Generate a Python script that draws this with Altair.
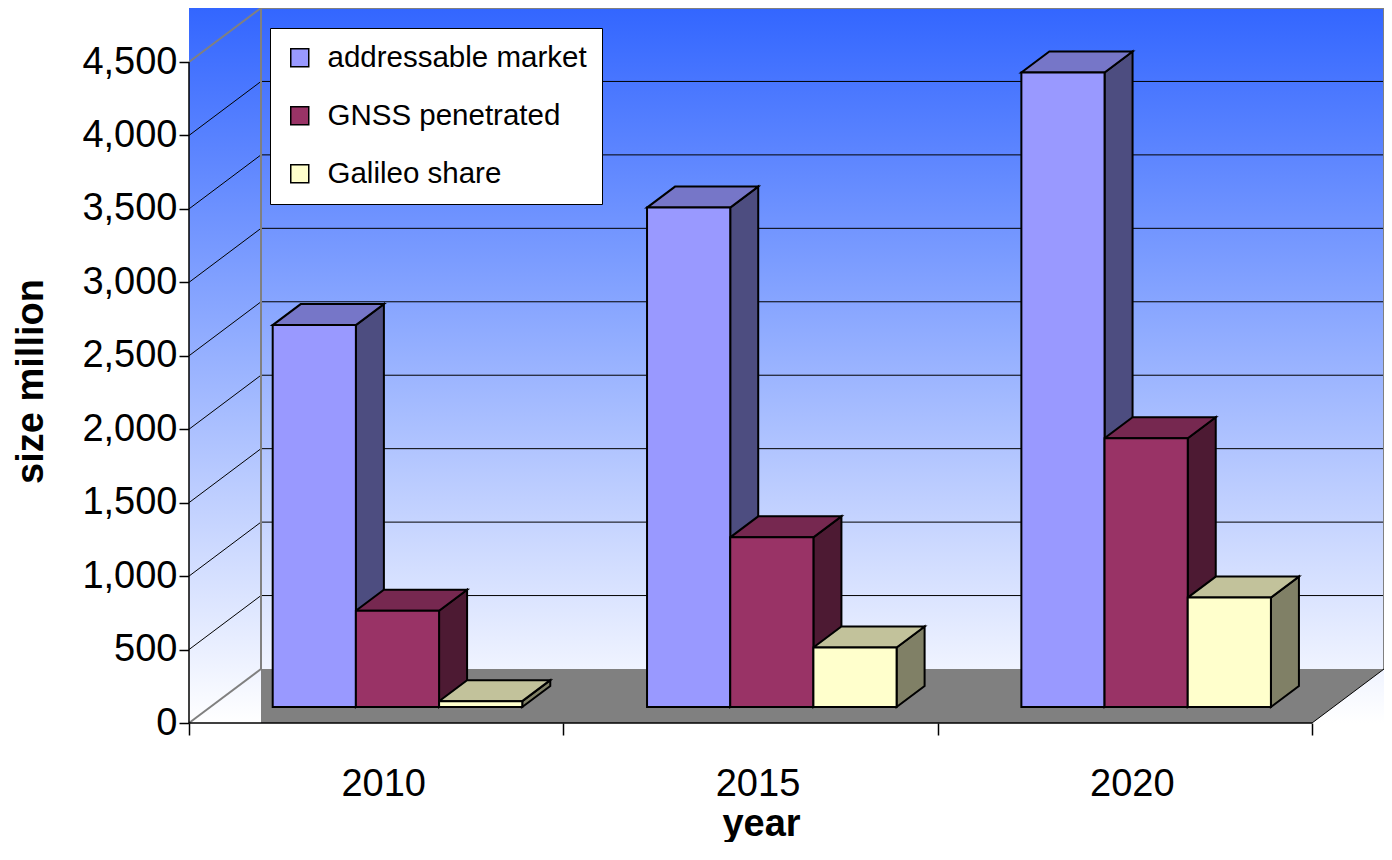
import json
import altair as alt
import pandas as pd

# ---------------- data ----------------
years = ["2010", "2015", "2020"]
series = ["addressable market", "GNSS penetrated", "Galileo share"]
addressable_market = [2600, 3400, 4320]
gnss_penetrated = [655, 1155, 1830]
galileo_share = [40, 405, 745]
y_tick_values = [0, 500, 1000, 1500, 2000, 2500, 3000, 3500, 4000, 4500]

front_colors = ["#9999FF", "#993366", "#FFFFCC"]
top_colors = ["#7676C8", "#762850", "#C2C29B"]
side_colors = ["#4D4D80", "#4D1A33", "#808066"]

# ---------------- layout (style) ----------------
FONT = "Liberation Sans"
PLOT_W, PLOT_H = 1195, 715
DEPTH_PX_X, DEPTH_PX_Y = 72, 54
AXIS_MAX = y_tick_values[-1]
GAP_WIDTH = 1.5
Z_FRONT, Z_BACK = 0.296, 0.685

n_cat = len(years)
n_ser = len(series)
cat_px = (PLOT_W - DEPTH_PX_X) / n_cat
DU = DEPTH_PX_X / cat_px
px_per_val = (PLOT_H - DEPTH_PX_Y) / AXIS_MAX
DV = DEPTH_PX_Y / px_per_val
X_MAX = n_cat + DU
Y_MAX = AXIS_MAX + DV

values = [addressable_market, gnss_penetrated, galileo_share]
bw = 1.0 / (n_ser + GAP_WIDTH)
du_bar = (Z_BACK - Z_FRONT) * DU
dv_bar = (Z_BACK - Z_FRONT) * DV

fronts, faces = [], []
for i, yr in enumerate(years):
    for j, s in enumerate(series):
        v = values[j][i]
        x0 = i + bw * GAP_WIDTH / 2 + j * bw + Z_FRONT * DU
        x1 = x0 + bw
        yb = Z_FRONT * DV
        yt = yb + v
        fronts.append(dict(series=s, year=yr, x=x0, x2=x1, y=yb, y2=yt))
        sid = f"side-{i}-{j}"
        faces += [
            dict(face=sid, x=x1, y=yb, y2=yt, color=side_colors[j]),
            dict(face=sid, x=x1 + du_bar, y=yb + dv_bar, y2=yt + dv_bar, color=side_colors[j]),
        ]
        tid = f"top-{i}-{j}"
        faces += [
            dict(face=tid, x=x0, y=yt, y2=yt, color=top_colors[j]),
            dict(face=tid, x=x0 + du_bar, y=yt, y2=yt + dv_bar, color=top_colors[j]),
            dict(face=tid, x=x1, y=yt, y2=yt + dv_bar, color=top_colors[j]),
            dict(face=tid, x=x1 + du_bar, y=yt + dv_bar, y2=yt + dv_bar, color=top_colors[j]),
        ]
fronts = pd.DataFrame(fronts)
faces = pd.DataFrame(faces)

lines = []
def seg(x, y, x2, y2, color, width):
    lines.append(dict(x=x, y=y, x2=x2, y2=y2, color=color, width=width))

for v in y_tick_values[1:-1]:
    seg(DU, v + DV, X_MAX, v + DV, "#000000", 1)
    seg(0, v, DU, v + DV, "#000000", 1)
GRAY = "#808080"
seg(DU, Y_MAX, X_MAX, Y_MAX, GRAY, 2)
seg(0, AXIS_MAX, DU, Y_MAX, GRAY, 2)
seg(DU, DV, DU, Y_MAX, GRAY, 2)
seg(X_MAX, DV, X_MAX, Y_MAX, GRAY, 2)
seg(0, 0, DU, DV, GRAY, 2)
seg(n_cat, 0, X_MAX, DV, "#000000", 1)
seg(0, 0, n_cat, 0, "#000000", 1.5)
seg(0, 0, 0, AXIS_MAX, "#000000", 1.5)
lines = pd.DataFrame(lines)

floor = pd.DataFrame([
    dict(x=DU, y=0, y2=DV),
    dict(x=n_cat, y=0, y2=DV),
    dict(x=X_MAX, y=DV, y2=DV),
])
bg = pd.DataFrame([dict(x=0, x2=X_MAX, y=0, y2=Y_MAX)])

# ---------------- scales & axes ----------------
xs = alt.Scale(domain=[0, X_MAX], nice=False, zero=False)
ys = alt.Scale(domain=[0, Y_MAX], nice=False, zero=False)

half_vals = [k * 0.5 for k in range(2 * n_cat + 1)]
label_expr = f"datum.value % 1 != 0 ? {json.dumps(years)}[floor(datum.value)] : ''"

x_axis = alt.Axis(
    values=half_vals, labelExpr=label_expr,
    tickOpacity={"condition": {"test": "datum.value % 1 == 0", "value": 1}, "value": 0},
    tickColor="black", tickSize=12, tickWidth=1.5, domain=False, grid=False,
    labelFont=FONT, labelFontSize=38, labelColor="black", labelBaseline="alphabetic",
    labelPadding=60, labelOffset=7, labelOverlap=False, labelFlush=False, labelBound=False,
    title="year", titleFont=FONT, titleFontSize=38, titleFontWeight="bold", titleColor="black",
    titleX=572, titleY=112, titleBaseline="alphabetic", titleAlign="center",
)
y_axis = alt.Axis(
    values=y_tick_values, format=",.0f", domain=False, grid=False,
    tickColor="black", tickSize=10, tickWidth=1.5,
    labelFont=FONT, labelFontSize=38, labelColor="black", labelPadding=2,
    labelFlush=False, labelOverlap=False,
    title="size million", titleFont=FONT, titleFontSize=38, titleFontWeight="bold",
    titleColor="black", titleAngle=270, titleX=-147, titleY=373,
    titleBaseline="alphabetic", titleAlign="center",
)

def X(f):
    return alt.X(f, type="quantitative", scale=xs, axis=x_axis)

def Y(f):
    return alt.Y(f, type="quantitative", scale=ys, axis=y_axis, stack=None)

gradient = alt.Gradient(
    gradient="linear",
    stops=[alt.GradientStop(color="#3366FF", offset=0),
           alt.GradientStop(color="#FFFFFF", offset=1)],
    x1=0, x2=0, y1=0, y2=1,
)

bg_layer = alt.Chart(bg).mark_rect(color=gradient).encode(
    x=X("x"), x2="x2", y=Y("y"), y2="y2")

floor_layer = alt.Chart(floor).mark_area(color="#808080", orient="vertical").encode(
    x=X("x"), y=Y("y"), y2="y2")

rules_layer = alt.Chart(lines).mark_rule().encode(
    x=X("x"), x2="x2", y=Y("y"), y2="y2",
    stroke=alt.Stroke("color:N", scale=None),
    strokeWidth=alt.StrokeWidth("width:Q", scale=None),
)

faces_layer = alt.Chart(faces).mark_area(
    orient="vertical", stroke="black", strokeWidth=2, strokeJoin="miter", opacity=1
).encode(
    x=X("x"), y=Y("y"), y2="y2", detail="face:N",
    fill=alt.Fill("color:N", scale=None),
)

fronts_layer = alt.Chart(fronts).mark_rect(stroke="black", strokeWidth=2, opacity=1).encode(
    x=X("x"), x2="x2", y=Y("y"), y2="y2",
    fill=alt.Fill(
        "series:N",
        scale=alt.Scale(domain=series, range=front_colors),
        sort=series,
        legend=alt.Legend(
            title=None, orient="none", legendX=81, legendY=20, direction="vertical",
            fillColor="white", strokeColor="black", padding=15,
            symbolType="square", symbolSize=324, symbolStrokeColor="black",
            symbolStrokeWidth=1.5, symbolOpacity=1,
            labelFont=FONT, labelFontSize=29.5, labelColor="black", labelOffset=13,
            labelLimit=500, rowPadding=27,
        ),
    ),
)

chart = alt.layer(
    bg_layer, floor_layer, rules_layer, faces_layer, fronts_layer
).resolve_scale(
    fill="independent", stroke="independent"
).properties(
    width=PLOT_W, height=PLOT_H,
    padding={"left": 181, "top": 0, "right": 0, "bottom": 119},
    autosize=alt.AutoSizeParams(type="none"),
).configure_view(stroke=None)

chart.save("out.html", embed_options={"renderer": "svg", "actions": False})
